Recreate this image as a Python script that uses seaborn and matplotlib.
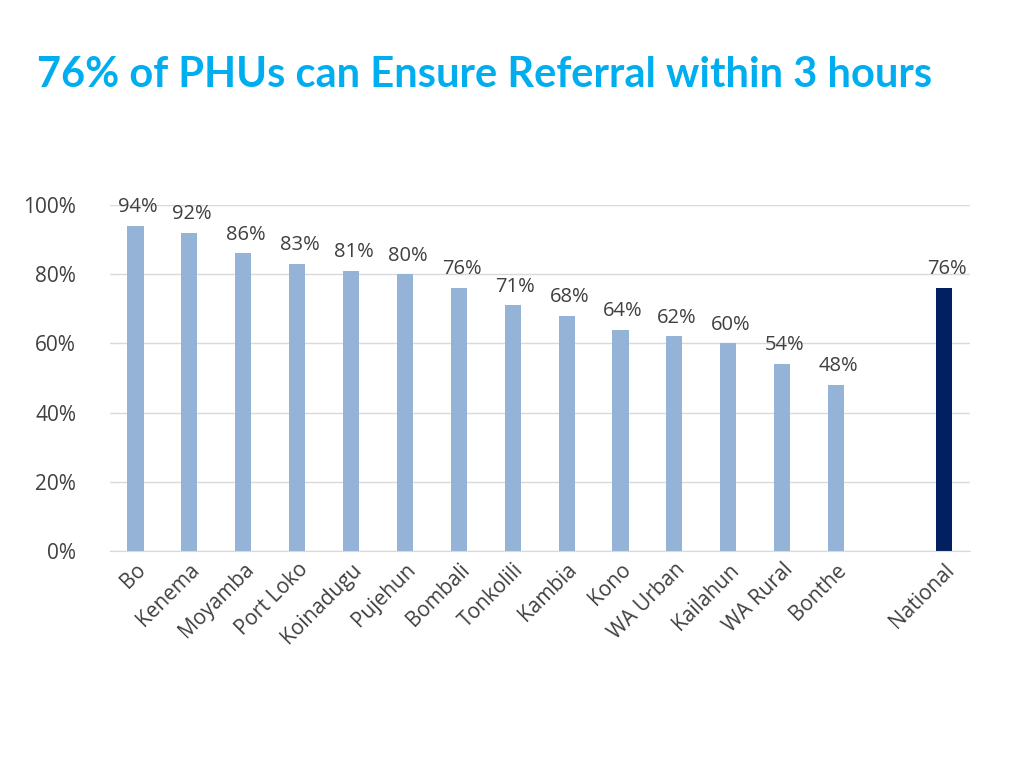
import matplotlib
matplotlib.use("Agg")
import matplotlib.pyplot as plt
import seaborn as sns
import pandas as pd
import numpy as np

districts = ["Bo", "Kenema", "Moyamba", "Port Loko", "Koinadugu", "Pujehun", "Bombali",
             "Tonkolili", "Kambia", "Kono", "WA Urban", "Kailahun", "WA Rural", "Bonthe", " ", "National"]
values = [0.94, 0.92, 0.86, 0.83, 0.81, 0.80, 0.76, 0.71, 0.68, 0.64, 0.62, 0.60, 0.54, 0.48, np.nan, 0.76]
labels = ["94%", "92%", "86%", "83%", "81%", "80%", "76%", "71%", "68%", "64%", "62%", "60%", "54%", "48%", "", "76%"]

df = pd.DataFrame({"district": districts, "value": values})
palette = {d: "#95B3D7" for d in districts}
palette["National"] = "#002060"

fig = plt.figure(figsize=(10.24, 7.68), dpi=100)
ax = fig.add_axes([0.107, 0.2826, 0.84, 0.4505])
sns.barplot(data=df, x="district", y="value", hue="district", order=districts,
            palette=palette, width=0.3, legend=False, ax=ax, saturation=1)

ax.set_ylim(0, 1)
ax.set_xlim(-0.48, len(districts) - 0.52)
ax.set_yticks(np.arange(0, 1.01, 0.2))
ax.set_yticklabels([f"{int(round(t*100))}%" for t in np.arange(0, 1.01, 0.2)])
ax.yaxis.grid(True, color="#D9D9D9", linewidth=1)
ax.set_axisbelow(True)
for s in ["top", "right", "left"]:
    ax.spines[s].set_visible(False)
ax.spines["bottom"].set_color("#D9D9D9")
ax.tick_params(axis="both", length=0, colors="#404040", labelsize=15)
ax.tick_params(axis="y", pad=24)
ax.tick_params(axis="x", pad=6)
ax.set_xlabel("")
ax.set_ylabel("")
plt.setp(ax.get_xticklabels(), rotation=45, ha="right", rotation_mode="anchor",
         fontfamily="Open Sans")
plt.setp(ax.get_yticklabels(), fontfamily="Open Sans")

for i, (v, lab) in enumerate(zip(values, labels)):
    if lab:
        ax.text(i + 0.05, v + 0.025, lab, ha="center", va="bottom", fontsize=14.5,
                color="#404040", fontfamily="Open Sans")

fig.text(0.036, 0.902, "76% of PHUs can Ensure Referral within 3 hours", fontsize=30,
         fontweight="bold", color="#00AEEF", fontfamily="Lato", va="center")

fig.savefig("out.png", dpi=100)
